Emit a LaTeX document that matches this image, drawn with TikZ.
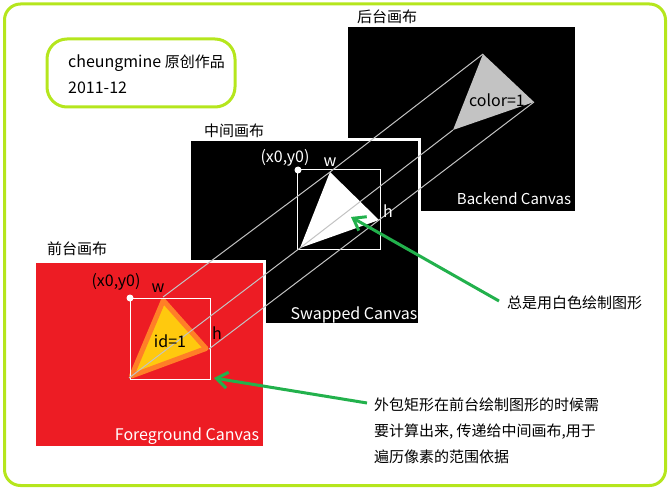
\documentclass[tikz,border=0pt]{standalone}
\usepackage{fontspec}
\setmainfont{Noto Sans CJK SC}
\usetikzlibrary{arrows.meta}
\definecolor{framegreen}{RGB}{181,230,29}
\definecolor{arrowgreen}{RGB}{34,177,76}
\definecolor{fgred}{RGB}{237,28,36}
\definecolor{triorange}{RGB}{255,127,39}
\definecolor{triyellow}{RGB}{255,201,14}
\definecolor{trigray}{RGB}{195,195,195}
\begin{document}
\begin{tikzpicture}[x=1pt, y=-1pt, >={Straight Barb[length=11pt,width=16pt]},
    every node/.style={font=\fontsize{15}{18}\selectfont, inner sep=0pt},
    latin/.style={font=\fontsize{16}{18}\selectfont},
    linkline/.style={trigray, line width=1pt},
    boxline/.style={white, line width=1pt},
    notearrow/.style={arrowgreen, line width=3pt, ->}]
    \useasboundingbox (0,0) rectangle (671,489);
    % 外框和标题
    \draw[framegreen, line width=3pt, rounded corners=16pt] (4.5,4) rectangle (665.5,485.5);
    \draw[framegreen, line width=3pt, rounded corners=20pt] (47,39) rectangle (235,107);
    \node[anchor=west] (title) at (68,63) {\fontsize{16}{18}\selectfont cheungmine \fontsize{15}{18}\selectfont 原创作品};
    \node[anchor=west, latin] (date) at (68,88) {2011-12};

    % 后台画布
    \fill[black] (348,27) rectangle (575,211);
    \node (bklabel) at (387,17) {后台画布};
    \coordinate (bkA) at (483,54);
    \coordinate (bkB) at (534,102);
    \coordinate (bkC) at (453,130);
    \fill[trigray] (bkA) -- (bkB) -- (bkC) -- cycle;

    % 中间画布
    \draw[white, line width=3pt, fill=black] (189.5,139.5) rectangle (419.5,324.5);
    \node (swlabel) at (234,131) {中间画布};
    \coordinate (swA) at (330,172);
    \coordinate (swB) at (379,220);
    \coordinate (swC) at (300,248);
    \fill[white] (swA) -- (swB) -- (swC) -- cycle;
    \draw[boxline] (297,170) rectangle (380,249);
    \fill[white] (298,170) circle (3.5);

    % 前台画布
    \draw[white, line width=3pt, fill=fgred] (34.5,261.5) rectangle (264.5,447.5);
    \node (fglabel) at (77,249) {前台画布};
    \coordinate (fgA) at (163,297);
    \coordinate (fgB) at (209,349);
    \coordinate (fgC) at (129,378);
    \filldraw[triorange, fill=triyellow, line width=5pt, line join=round]
        (163.3,300.5) -- (206,348.5) -- (131.5,376) -- cycle;
    \draw[boxline] (130,298) rectangle (210,379);
    \fill[white] (130,298) circle (3.5);

    % 投影连线
    \draw[linkline] (fgA) -- (swA) -- (bkA);
    \draw[linkline] (fgB) -- (swB) -- (bkB);
    \draw[linkline] (fgC) -- (swC) -- (bkC);

    % 标注
    \node[latin] (bkid) at (497,100) {color=1};
    \node[white] (bkname) at (514,199) {Backend Canvas};
    \node[latin, white] (swxy) at (285,158) {(x0,y0)};
    \node[latin, white] (sww) at (330,162) {w};
    \node[latin, white] (swh) at (388,211) {h};
    \node[latin, white] (swname) at (354,315) {Swapped Canvas};
    \node[latin] (fgxy) at (116,282) {(x0,y0)};
    \node[latin] (fgw) at (158,288) {w};
    \node[latin] (fgh) at (217,333) {h};
    \node[latin] (fgid) at (170,341) {id=1};
    \node[latin, white] (fgname) at (187,436) {Foreground Canvas};

    % 说明文字和箭头
    \node[anchor=west] (note1) at (507,303) {总是用白色绘制图形};
    \node[anchor=west] (note2a) at (374,405) {外包矩形在前台绘制图形的时候需};
    \node[anchor=west] (note2b) at (374,432) {要计算出来, 传递给中间画布,用于};
    \node[anchor=west] (note2c) at (374,457) {遍历像素的范围依据};
    \coordinate (swtip) at (351,217);
    \coordinate (fgtip) at (214,378);
    \draw[notearrow] ([shift={(-8,-2)}]note1.west) -- (swtip);
    \draw[notearrow] ([shift={(-7,-2)}]note2a.west) -- (fgtip);
\end{tikzpicture}
\end{document}
